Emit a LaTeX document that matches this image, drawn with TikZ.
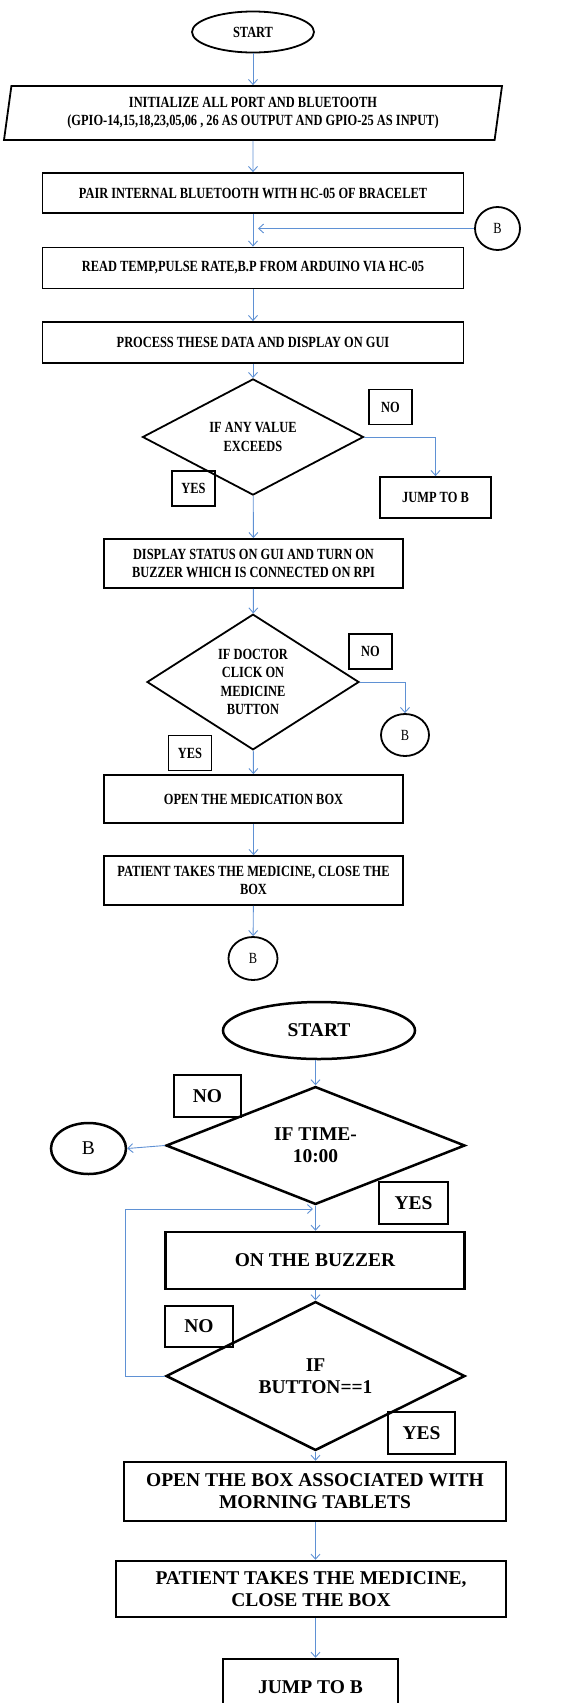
\documentclass[tikz,border=0pt]{standalone}
\usepackage{fontspec}
\setmainfont{Liberation Serif}
\newfontfamily\upfont[FakeStretch=0.8]{Liberation Serif}
\usetikzlibrary{arrows.meta,shapes.geometric}
\definecolor{ink}{HTML}{000000}
\definecolor{flowc}{HTML}{5F91D4}
\tikzset{
  box/.style={draw=ink,line width=1.8pt,align=center,inner sep=2pt,text=ink,font=\upfont\bfseries\fontsize{15.5}{18.5}\selectfont},
  dec/.style={box,diamond,inner sep=0pt},
  term/.style={box,ellipse,inner sep=0pt},
  conn/.style={term,font=\upfont\mdseries\fontsize{15.5}{18.5}\selectfont},
  io/.style={box,trapezium,trapezium left angle=77,trapezium right angle=103,trapezium stretches body,inner sep=0pt},
  tag/.style={box,minimum width=43pt,minimum height=35pt,inner sep=0pt},
  boxB/.style={box,line width=2.5pt,font=\bfseries\fontsize{19.5}{22}\selectfont},
  decB/.style={boxB,diamond,inner sep=0pt},
  termB/.style={boxB,ellipse,inner sep=0pt},
  connB/.style={termB,font=\mdseries\fontsize{19.5}{22}\selectfont},
  tagB/.style={boxB,minimum height=42pt,inner sep=0pt},
  flow/.style={-{Straight Barb[length=5pt,width=9pt]},line width=0.9pt,flowc}
}

\begin{document}
\begin{tikzpicture}[x=1pt,y=-1pt]
\useasboundingbox (0,0) rectangle (584,1703);
\clip (0,0) rectangle (584,1703);
% ===================== chart 1: the monitor =====================
\node[term,minimum width=122pt,minimum height=41pt] (startA) at (253,32) {START};
\node[io,minimum width=498pt,minimum height=54pt] (init) at (253,113) {INITIALIZE ALL PORT AND BLUETOOTH\\(GPIO-14,15,18,23,05,06 , 26 AS OUTPUT AND GPIO-25 AS INPUT)};
\node[box,minimum width=421pt,minimum height=40pt] (pair) at (253,193) {PAIR INTERNAL BLUETOOTH WITH HC-05 OF BRACELET};
\node[conn,minimum width=45pt,minimum height=43pt] (bone) at (497.5,228.5) {B};
\coordinate (joinA) at (258,228.5);
\node[box,minimum width=421pt,minimum height=41pt] (read) at (253,268) {READ TEMP,PULSE RATE,B.P FROM ARDUINO VIA HC-05};
\node[box,minimum width=421pt,minimum height=41pt] (proc) at (253,342.5) {PROCESS THESE DATA AND DISPLAY ON GUI};
\node[dec,minimum width=221pt,minimum height=80pt] (any) at (253,437) {IF ANY VALUE\\EXCEEDS};
\node[tag] (noA) at (390.5,407) {NO};
\node[box,minimum width=111pt,minimum height=41pt] (jumpA) at (435.5,497.5) {JUMP TO B};
\node[tag] (yesA) at (193.5,488.5) {YES};
\node[box,minimum width=299pt,minimum height=49pt] (disp) at (253.5,563.5) {DISPLAY STATUS ON GUI AND TURN ON\\BUZZER WHICH IS CONNECTED ON RPI};
\node[dec,minimum width=212pt,minimum height=120pt] (doc) at (253,682) {IF DOCTOR\\CLICK ON\\MEDICINE\\BUTTON};
\node[tag] (noB) at (370.5,651.5) {NO};
\node[conn,minimum width=48pt,minimum height=42pt] (btwo) at (405,735) {B};
\node[tag] (yesB) at (190,753) {YES};
\node[box,minimum width=299pt,minimum height=48pt] (openA) at (253.5,799) {OPEN THE MEDICATION BOX};
\node[box,minimum width=299pt,minimum height=49pt] (takeA) at (253.5,880.5) {PATIENT TAKES THE MEDICINE, CLOSE THE\\BOX};
\node[conn,minimum width=49pt,minimum height=43pt] (bthree) at (253,958.5) {B};
\draw[flow] (startA) -- (init);
\draw[flow] (init) -- (pair);
\draw[flow] (pair) -- (read);
\draw[flow] (bone) -- (joinA);
\draw[flow] (read) -- (proc);
\draw[flow] (proc) -- (any);
\draw[flow] (any.east) -| (jumpA.north);
\draw[flow] (any) -- (disp);
\draw[flow] (disp) -- (doc);
\draw[flow] (doc.east) -| (btwo.north);
\draw[flow] (doc) -- (openA);
\draw[flow] (openA) -- (takeA);
\draw[flow] (takeA) -- (bthree);
% ===================== chart 2: the morning dose =====================
\node[termB,minimum width=192pt,minimum height=57pt] (startB) at (319,1030.5) {START};
\node[decB,minimum width=299pt,minimum height=91pt] (time) at (315.5,1145.5) {IF TIME-\\10:00};
\node[tagB,minimum width=67pt] (noC) at (207.5,1096) {NO};
\node[connB,minimum width=75pt,minimum height=51pt] (bfour) at (88.5,1148.5) {B};
\node[tagB,minimum width=69pt] (yesC) at (413.5,1203) {YES};
\node[boxB,minimum width=299pt,minimum height=57pt] (buzz) at (315,1260.5) {ON THE BUZZER};
\node[tagB,minimum width=68pt,minimum height=41pt] (noD) at (199,1326.5) {NO};
\node[decB,minimum width=299pt,minimum height=90pt] (btn) at (315.5,1376) {IF\\BUTTON==1};
\node[tagB,minimum width=67pt] (yesD) at (421.5,1433) {YES};
\node[boxB,minimum width=382pt,minimum height=59pt] (openB) at (315,1491.5) {OPEN THE BOX ASSOCIATED WITH\\MORNING TABLETS};
\node[boxB,minimum width=390pt,minimum height=56pt] (takeB) at (311,1589) {PATIENT TAKES THE MEDICINE,\\CLOSE THE BOX};
\node[boxB,minimum width=175pt,minimum height=57pt] (jumpB) at (310.5,1687.5) {JUMP TO B};
\coordinate (backB) at (125,1376);
\coordinate (joinB) at (313,1209);
\draw[flow] (startB.south -| time.north) -- (time.north);
\draw[flow] (time.west) -- (bfour.east);
\draw[flow] (time.south) -- (time.south |- buzz.north);
\draw[flow] (buzz.south -| time.south) -- (btn.north);
\draw[flow] (btn.west) -- (backB) |- (joinB);
\draw[flow] (btn.south) -- (btn.south |- openB.north);
\draw[flow] (openB.south -| btn.south) -- (takeB.north -| btn.south);
\draw[flow] (takeB.south -| btn.south) -- (jumpB.north -| btn.south);
\end{tikzpicture}
\end{document}
